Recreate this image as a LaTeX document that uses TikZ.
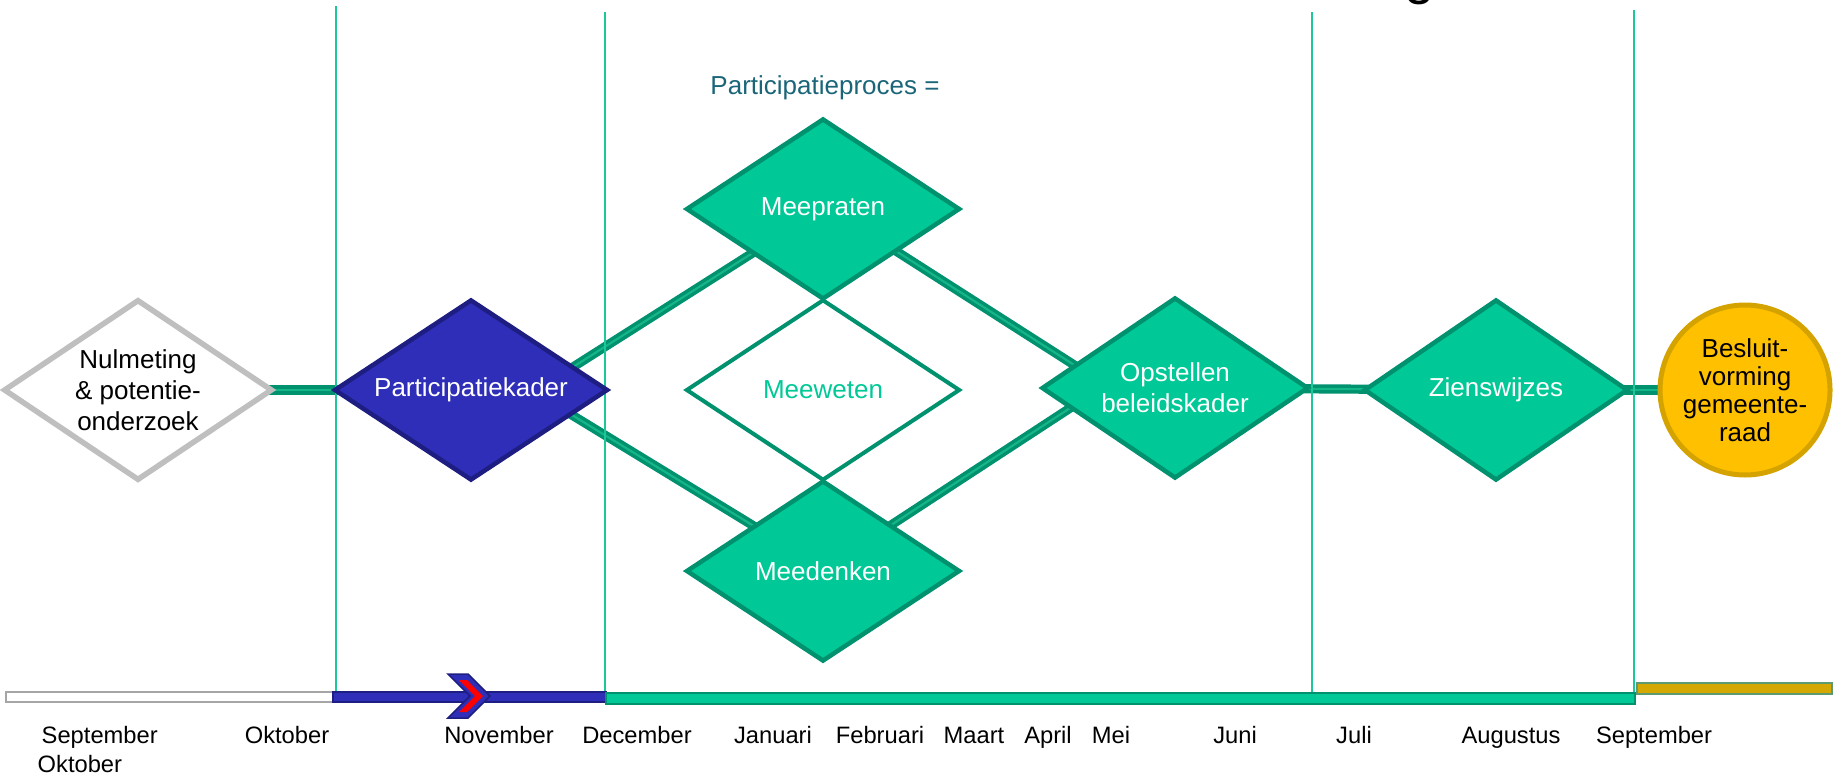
\documentclass[tikz,border=0pt]{standalone}
\usepackage{fontspec}
\setmainfont{Liberation Sans}
\usetikzlibrary{
    backgrounds, % for the on background layer scope
    shapes.geometric % to use \node[diamond]
}

\definecolor{phasefill}{HTML}{00C896}
\definecolor{phaseedge}{HTML}{00916E}
\definecolor{linkcore}{HTML}{14B586}
\definecolor{kaderfill}{HTML}{2E2EB8}
\definecolor{kaderedge}{HTML}{1E1E82}
\definecolor{nulgrey}{HTML}{BFBFBF}
\definecolor{raadfill}{HTML}{FFC000}
\definecolor{raadedge}{HTML}{D4A300}
\definecolor{goldbar}{HTML}{D4A800}
\definecolor{goldedge}{HTML}{5E9A70}
\definecolor{monthline}{HTML}{1CC79A}
\definecolor{proctext}{HTML}{1A6678}

\newcommand\phasefont{\fontsize{7.4}{8.9}\selectfont}
\newcommand\monthfont{\fontsize{6.75}{8.2}\selectfont}

\begin{document}
\begin{tikzpicture} [
    phase/.style = {diamond, aspect=1.5, draw=phaseedge, fill=phasefill, line width=.045cm,
        inner sep=0pt, minimum width=2.74cm, minimum height=1.81cm,
        text=white, align=center, font=\phasefont},
    link/.style = {draw=phaseedge, line width=.035cm, double=linkcore,
        double distance=.022cm, shorten <=-.06cm, shorten >=-.06cm},
    month/.style = {font=\monthfont, inner sep=0pt, anchor=base}
]
    \useasboundingbox (0,0) rectangle (18.43,7.76);

    % title, cut off at the top
    \node[font=\fontsize{15.6}{18}\selectfont, inner sep=0pt, anchor=base] (title) at (14.20,7.82) {g};

    \node[font=\phasefont, text=proctext] (proces) at (8.25,6.88) {Participatieproces =};

    \node[phase, draw=nulgrey, fill=white, text=black, line width=.055cm, minimum width=2.69cm] (nul) at (1.38,3.86) {Nulmeting\\\& potentie-\\onderzoek};
    \node[phase, draw=kaderedge, fill=kaderfill] (kader) at (4.71,3.86) {Participatiekader};
    \node[phase] (praten) at (8.23,5.67) {Meepraten};
    \node[phase, fill=white, text=phasefill, line width=.04cm] (weten) at (8.23,3.86) {Meeweten};
    \node[phase] (denken) at (8.23,2.05) {Meedenken};
    \node[phase, minimum width=2.67cm] (opstellen) at (11.75,3.88) {Opstellen\\beleidskader};
    \node[phase, minimum width=2.64cm] (zienswijzes) at (14.96,3.86) {Zienswijzes};
    \node[circle, draw=raadedge, fill=raadfill, line width=.05cm, minimum size=1.70cm,
        inner sep=0pt, align=center, font=\fontsize{7.4}{8.0}\selectfont] (besluit) at (17.45,3.86)
        {Besluit-\\vorming\\gemeente-\\raad};

    \begin{scope}[on background layer]
        \draw[link] (nul) -- (kader);
        \draw[link] (kader.13) -- (praten.212);
        \draw[link] (kader.-14) -- (denken.147);
        \draw[link] (praten.330) -- (opstellen.167);
        \draw[link] (denken.34) -- (opstellen.191);
        \draw[link] (opstellen) -- (zienswijzes);
        \draw[link] (zienswijzes) -- (besluit);

        % month separators
        \draw[monthline, line width=.02cm] (3.36,0.84) -- (3.36,7.70);
        \draw[monthline, line width=.02cm] (6.05,0.84) -- (6.05,7.64);
        \draw[monthline, line width=.02cm] (13.12,0.84) -- (13.12,7.64);
        \draw[monthline, line width=.02cm] (16.34,0.84) -- (16.34,7.66);
    \end{scope}

    % timeline
    \filldraw[draw=gray!70, fill=white, line width=.02cm] (0.06,0.74) rectangle (3.33,0.84);
    \filldraw[draw=kaderedge, fill=kaderfill, line width=.02cm] (3.33,0.74) rectangle (6.06,0.84);
    \filldraw[draw=phaseedge, fill=phasefill, line width=.02cm] (6.06,0.72) rectangle (16.35,0.83);
    \filldraw[draw=goldedge, fill=goldbar, line width=.02cm] (16.37,0.82) rectangle (18.32,0.93);

    % we are here
    \filldraw[draw=kaderedge, fill=kaderfill, line width=.015cm] (4.48,1.02) -- (4.68,1.02) -- (4.90,0.80)
        -- (4.68,0.58) -- (4.48,0.58) -- (4.70,0.80) -- cycle;
    \fill[red] (4.59,0.96) -- (4.67,0.96) -- (4.83,0.80) -- (4.67,0.64) -- (4.59,0.64) -- (4.75,0.80) -- cycle;

    \node[month, anchor=north west, align=left] (month0) at (0.37,0.50) {\hspace{.04cm}September\\Oktober};
    \foreach \x/\m [count=\i] in {2.87/Oktober, 4.99/November, 6.37/December, 7.73/Januari,
        8.80/Februari, 9.74/Maart, 10.48/April, 11.11/Mei, 12.35/Juni, 13.54/Juli,
        15.11/Augustus, 16.54/September}
        \node[month] (month\i) at (\x,0.33) {\m};
\end{tikzpicture}
\end{document}
